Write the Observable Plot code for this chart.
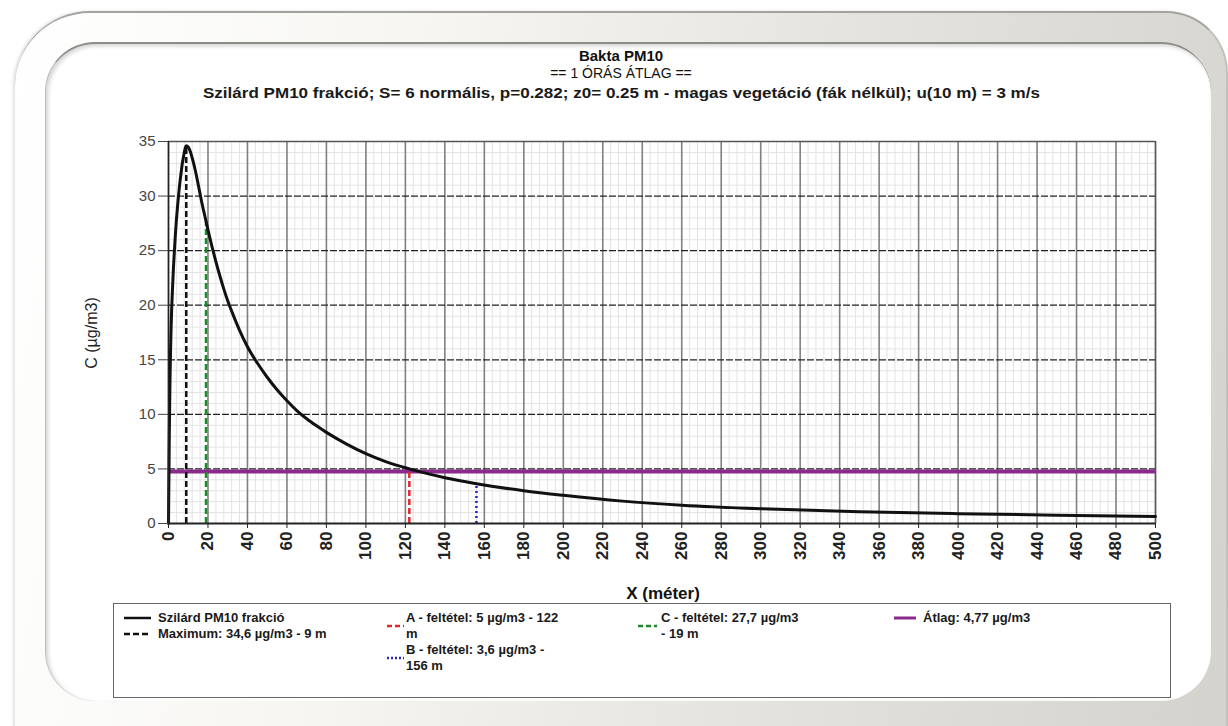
<!DOCTYPE html>
<html><head><meta charset="utf-8">
<script src="https://cdn.jsdelivr.net/npm/d3@7"></script>
<script src="https://cdn.jsdelivr.net/npm/@observablehq/plot@0.6"></script>
<style>
body{margin:0;width:1228px;height:726px;overflow:hidden;background:#fff;font-family:"Liberation Sans",Arial,sans-serif;}
#stage{position:relative;width:1228px;height:726px;overflow:hidden;background:#fff;}
#outer{position:absolute;left:15px;top:11px;width:1211px;height:800px;border-radius:75px 62px 0 0;
  background:linear-gradient(100deg,#ffffff 0%,#f7f6f2 30%,#e4e2dd 65%,#d4d2cd 100%);
  border-top:2px solid #a3a29e;border-right:2px solid #c3c1bc;box-shadow:-2px 0 3px rgba(0,0,0,0.12);}
#inner{position:absolute;left:45px;top:42px;width:1165px;height:657px;border-radius:50px;background:#fff;
  border-top:2px solid #8d8c88;border-left:1px solid #bdbcb8;box-shadow:inset 2px 2px 4px rgba(0,0,0,0.18);}
.t{position:absolute;left:0;width:1242px;text-align:center;color:#111;white-space:nowrap;}
#sub span{display:inline-block;transform-origin:50% 50%;}
#chart{position:absolute;left:0;top:0;}
svg g[aria-label="x-axis tick label"]{font-weight:bold;font-size:17px;}
svg g[aria-label="y-axis tick label"]{font-size:15px;}
#legend{position:absolute;left:113px;top:603px;width:1056px;height:93px;border:1px solid #666;background:#fff;}
.lt{position:absolute;font-size:13px;font-weight:bold;line-height:14px;color:#1a1a1a;white-space:nowrap;}
.ls{position:absolute;}
#ylab{position:absolute;left:92px;top:333px;transform:translate(-50%,-50%) rotate(-90deg);font-size:16px;color:#222;white-space:nowrap;}
#xlab{position:absolute;left:663px;top:594px;transform:translate(-50%,-50%);font-size:17px;font-weight:bold;color:#111;white-space:nowrap;}
</style>
</head><body>
<div id="stage">
  <div id="outer"></div>
  <div id="inner"></div>
  <div class="t" style="top:47px;font-size:15px;font-weight:bold;">Bakta PM10</div>
  <div class="t" style="top:65px;font-size:14px;">== 1 ÓRÁS ÁTLAG ==</div>
  <div class="t" id="sub" style="top:84px;font-size:15px;font-weight:bold;color:#1a1a1a;"><span>Szilárd PM10 frakció; S= 6 normális, p=0.282; z0= 0.25 m - magas vegetáció (fák nélkül); u(10 m) = 3 m/s</span></div>
  <div id="chart"></div>
  <div id="ylab">C (µg/m3)</div>
  <div id="xlab">X (méter)</div>
  <div id="legend"></div>
</div>
<script>
// ---- data ----
const xDist = [0,0.2,0.4,0.6,0.8,1,1.3,1.6,2,2.5,3,3.5,4,4.5,5,5.5,6,6.5,7,7.5,8,8.5,9,10,11,12,13,14,15,16,17,18,19,20,22,24,26,28,30,33,36,40,45,50,55,60,65,70,75,80,90,100,110,122,140,156,180,200,230,260,300,350,400,450,500];
const conc  = [0,4,8,11,13.5,15.5,17.8,19.6,21.4,23.4,25,26.5,27.8,28.9,29.9,30.8,31.6,32.3,33,33.5,34,34.4,34.6,34.5,34.1,33.5,32.8,32,31.1,30.2,29.3,28.5,27.7,26.9,25.4,24,22.7,21.5,20.4,19,17.7,16.2,14.7,13.4,12.25,11.25,10.35,9.6,8.95,8.35,7.3,6.4,5.67,5.0,4.2,3.65,3.0,2.58,2.05,1.68,1.35,1.08,0.9,0.76,0.65];

const refX      = [9, 122, 156, 19];      // Maximum, A, B, C
const refC      = [34.6, 5, 3.6, 27.7];
const refColors = ["#111111", "#e2262a", "#2424c8", "#1e8a2a"];
const refDash   = ["6,3", "6,3", "2,3", "6,3"];

const avgValue = 4.77;
const avgColor = "#8a2a8c";

const xTicks = [0,20,40,60,80,100,120,140,160,180,200,220,240,260,280,300,320,340,360,380,400,420,440,460,480,500];
const yTicks = [0,5,10,15,20,25,30,35];
const xMinor = d3.range(0, 501, 4).filter(v => v % 20 !== 0);
const yMinor = d3.range(0, 36, 1).filter(v => v % 5 !== 0);

const legendText = [
  ["Szilárd PM10 frakció"],
  ["Maximum: 34,6 µg/m3 - 9 m"],
  ["A - feltétel: 5 µg/m3 - 122", "m"],
  ["B - feltétel: 3,6 µg/m3 -", "156 m"],
  ["C - feltétel: 27,7 µg/m3", "- 19 m"],
  ["Átlag: 4,77 µg/m3"]
];

// stretch subtitle horizontally to the reference width (~837px)
(function(){
  const r = document.querySelector("#sub span");
  const w = r.getBoundingClientRect().width;
  if (w > 0) r.style.transform = "scaleX(" + (837 / w) + ")";
})();

// ---- chart ----
const curve = xDist.map((x, i) => ({x, c: conc[i]}));
const refs = refX.map((x, i) => ({x, c: refC[i]}));

const marks = [
  Plot.ruleX(xMinor, {stroke: "#e3e3e3", strokeWidth: 1}),
  Plot.ruleY(yMinor, {stroke: "#e3e3e3", strokeWidth: 1}),
  Plot.ruleX(xTicks, {stroke: "#808080", strokeWidth: 1.6}),
  Plot.ruleY(yTicks.filter(v => v > 0 && v < 35), {stroke: "#222", strokeWidth: 1.3, strokeDasharray: "7,2"}),
  Plot.ruleY([35], {stroke: "#555", strokeWidth: 1.3}),
  Plot.ruleX([500], {stroke: "#555", strokeWidth: 1.3}),
  Plot.ruleY([avgValue], {stroke: avgColor, strokeWidth: 4}),
];
refs.forEach((r, i) => {
  marks.push(Plot.ruleX([r], {x: "x", y1: 0, y2: "c", stroke: refColors[i], strokeWidth: 2.5, strokeDasharray: refDash[i]}));
});
marks.push(
  Plot.line(curve, {x: "x", y: "c", stroke: "#111", strokeWidth: 3, curve: "monotone-x"}),
  Plot.ruleY([0], {stroke: "#222", strokeWidth: 2}),
  Plot.ruleX([0], {stroke: "#222", strokeWidth: 1.5}),
  Plot.axisX({ticks: xTicks, tickRotate: -90, tickSize: 5, tickPadding: 3, label: null, color: "#222"}),
  Plot.axisY({ticks: yTicks, tickSize: 10, tickPadding: 3, label: null, color: "#444"})
);

const chart = Plot.plot({
  width: 1228,
  height: 726,
  marginLeft: 168,
  marginRight: 73,
  marginTop: 141,
  marginBottom: 203,
  x: {domain: [0, 500]},
  y: {domain: [0, 35]},
  style: {background: "transparent", fontFamily: "'Liberation Sans', Arial, sans-serif", overflow: "visible"},
  marks
});
document.getElementById("chart").appendChild(chart);

// ---- legend ----
const leg = document.getElementById("legend");
function sample(left, top, w, color, dash, sw) {
  const s = document.createElementNS("http://www.w3.org/2000/svg", "svg");
  s.setAttribute("class", "ls");
  s.setAttribute("width", w); s.setAttribute("height", 8);
  s.style.left = left + "px"; s.style.top = (top - 4) + "px";
  const l = document.createElementNS("http://www.w3.org/2000/svg", "line");
  l.setAttribute("x1", 0); l.setAttribute("x2", w); l.setAttribute("y1", 4); l.setAttribute("y2", 4);
  l.setAttribute("stroke", color); l.setAttribute("stroke-width", sw);
  if (dash) l.setAttribute("stroke-dasharray", dash);
  s.appendChild(l); leg.appendChild(s);
}
function txt(left, top, lines) {
  lines.forEach((t, k) => {
    const d = document.createElement("div");
    d.className = "lt"; d.textContent = t;
    d.style.left = left + "px"; d.style.top = (top + k * 16) + "px";
    leg.appendChild(d);
  });
}
sample(10, 14, 27, "#111", null, 2.5);          txt(44, 7, legendText[0]);
sample(10, 30, 27, "#111", "6,3", 2.5);         txt(44, 23, legendText[1]);
sample(273, 22, 17, refColors[1], "5,3", 2.5);  txt(292, 7, legendText[2]);
sample(273, 54, 17, refColors[2], "2,2", 2.5);  txt(292, 39, legendText[3]);
sample(524, 22, 19, refColors[3], "5,3", 2.5);  txt(547, 7, legendText[4]);
sample(780, 14, 22, avgColor, null, 3);         txt(809, 7, legendText[5]);
</script>
</body></html>
